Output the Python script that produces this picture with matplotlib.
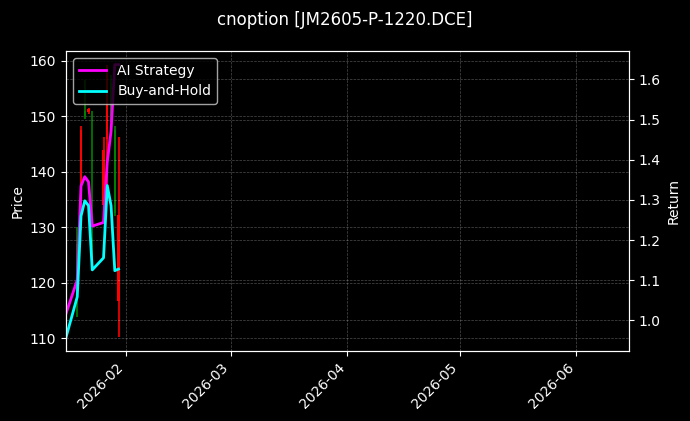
import numpy as np
import matplotlib
matplotlib.use("Agg")
import matplotlib.pyplot as plt
import matplotlib.dates as mdates
import pandas as pd

plt.style.use("dark_background")

#%% data
dates = pd.to_datetime(["2026-01-16", "2026-01-19", "2026-01-20", "2026-01-21",
                        "2026-01-22", "2026-01-23", "2026-01-26", "2026-01-27",
                        "2026-01-28", "2026-01-29", "2026-01-30"])
opens  = [112.5, 117.0, 147.5, 150.0, 151.3, 126.5, 144.0, 157.5, 150.0, 132.5, 132.3]
highs  = [115.0, 130.0, 148.3, 156.5, 151.5, 150.9, 146.2, 159.3, 157.5, 148.2, 146.2]
lows   = [111.5, 113.8, 129.5, 149.5, 150.5, 124.6, 132.9, 135.0, 149.0, 132.0, 110.2]
closes = [114.0, 127.0, 131.0, 151.0, 150.8, 128.0, 134.0, 146.0, 156.0, 147.5, 116.7]

ai_ret = [1.017, 1.101, 1.335, 1.358, 1.345, 1.235, 1.244, 1.395, 1.471, 1.637, 1.637]
bh_ret = [0.958, 1.059, 1.260, 1.298, 1.286, 1.126, 1.156, 1.336, 1.286, 1.124, 1.128]

x_start = pd.Timestamp("2026-01-16")
x_end = pd.Timestamp("2026-06-15")
title = "cnoption [JM2605-P-1220.DCE]"

#%%
fig, ax = plt.subplots(1, 1, figsize=(6.9, 4.21), dpi=100)
fig.subplots_adjust(left=66/690, right=629/690, top=1-51/421, bottom=1-351/421)

cols = ['green' if c >= o else 'red' for o, c in zip(opens, closes)]
ax.vlines(dates, lows, highs, colors=cols, linewidth=1.2)
body = np.array(closes) - np.array(opens)
ax.bar(dates, body, bottom=opens, width=0.6, color=cols)
ax.set_ylabel("Price")
ax.grid(True, ls='--', lw=0.5, alpha=0.3)

ax2 = ax.twinx()
ax2.plot(dates, ai_ret, c='#ff00ff', lw=2, label="AI Strategy")
ax2.plot(dates, bh_ret, c='#00ffff', lw=2, label="Buy-and-Hold")
ax2.set_ylabel("Return")
ax2.grid(True, ls='--', lw=0.5, alpha=0.3)
ax2.legend(loc='upper left')

ax.set_xlim(x_start, x_end)
ax.xaxis.set_major_locator(mdates.MonthLocator())
ax.xaxis.set_major_formatter(mdates.DateFormatter("%Y-%m"))
plt.setp(ax.get_xticklabels(), rotation=45, ha='right')

fig.suptitle(title, fontsize=12, y=0.975)
fig.savefig("out.png", dpi=100)
